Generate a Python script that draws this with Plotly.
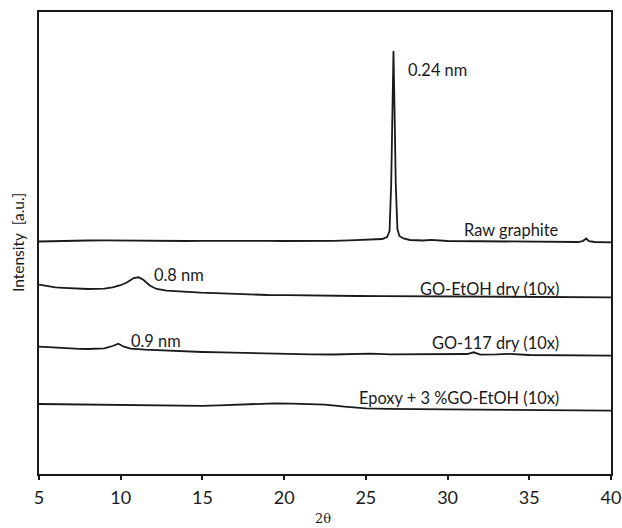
import plotly.graph_objects as go

# ---- data (intensity in arbitrary units) ----
raw_x = [5, 6, 7, 8, 9, 10, 11, 12, 13, 14, 15, 16, 17, 18, 19, 20, 21, 22, 23, 24,
         25, 25.5, 26.0, 26.3, 26.45, 26.55, 26.62, 26.69, 26.76, 26.83, 26.93, 27.05,
         27.3, 27.7, 28.5, 29, 30, 31, 32, 33, 34, 35, 36, 37, 38, 38.3, 38.48, 38.65, 39, 40]
raw_y = [232.5, 233, 233.2, 233.5, 233.6, 233.4, 233.6, 233.5, 233.2, 233, 233.2, 233, 232.9,
         233, 233.1, 233, 232.9, 233, 233.2, 233.6,
         234, 234.5, 235, 237, 243, 290, 360, 423, 360, 290, 245, 238,
         235.5, 234, 233.5, 234.2, 233, 232.8, 232.6, 232.5, 232.6, 232.4, 232.5, 232.2, 232, 233.2, 235.5, 232.8, 232, 231.6]

etoh_x = [5, 5.5, 6, 6.5, 7, 7.5, 8, 8.5, 9, 9.5, 10, 10.4, 10.8, 11.1, 11.4, 11.8, 12.2, 12.8,
          13.5, 14.2, 14.9, 15.8, 16.9, 18, 19, 20.2, 21.6, 23, 24.5, 26, 27.8, 29.5, 31, 32.5,
          33.9, 35.5, 37, 38.5, 40]
etoh_y = [189.3, 188, 186.7, 186.2, 185.7, 185.4, 185, 185.2, 185.3, 186.7, 188.8, 191.7, 196, 196.7,
          194, 188.3, 185, 183.3, 182.5, 181.8, 181.3, 180.8, 180, 179.5, 179, 178.8, 178.3, 178.4,
          178, 177.9, 177.7, 177.8, 177.5, 177.4, 177.3, 177.1, 177, 176.9, 176.7]

go117_x = [5, 5.5, 6, 6.5, 7, 7.5, 8, 8.5, 9, 9.5, 9.85, 10.2, 10.6, 11.5, 12.2, 13, 14, 15, 16.2,
           17.5, 18.8, 20, 21.6, 23, 25, 25.3, 26.5, 28, 29.5, 31.2, 31.6, 32, 33, 33.8, 35, 36.5,
           38, 40]
go117_y = [127.3, 126.8, 126, 125.6, 125.3, 125.2, 125, 125.3, 125.7, 128, 130.3, 127.3, 125.3, 124.3,
           123.8, 123, 122.6, 122, 121.6, 121, 120.6, 120, 119.7, 119.5, 120, 120.4, 119.6, 119.7,
           119.9, 120, 121.7, 119.3, 119.6, 120.2, 119, 118.8, 118.6, 118.3]

epoxy_x = [5, 6, 7, 8, 9, 10, 11, 12, 13, 14, 15, 16, 17, 18, 19, 19.5, 20.5, 21.6, 22.5, 23.7,
           25, 26.3, 27.8, 29.5, 31.8, 33.8, 35.9, 38, 40]
epoxy_y = [70, 69.8, 69.5, 69.3, 69.4, 69.1, 69, 68.7, 68.4, 68, 68.2, 68.7, 69.3, 70, 70.5, 70.7,
           70.4, 70, 69.3, 67.3, 65.7, 65.1, 64.7, 64.5, 64.3, 64.2, 64, 63.8, 63.3]

series = [
    ("Raw graphite", raw_x, raw_y),
    ("GO-EtOH dry (10x)", etoh_x, etoh_y),
    ("GO-117 dry (10x)", go117_x, go117_y),
    ("Epoxy + 3 %GO-EtOH (10x)", epoxy_x, epoxy_y),
]

# labels: (text, x, y, xanchor)
labels = [
    ("0.24 nm", 27.47, 405, "left"),
    ("Raw graphite", 36.95, 245, "right"),
    ("0.8 nm", 11.94, 200, "left"),
    ("GO-EtOH dry (10x)", 36.95, 186, "right"),
    ("0.9 nm", 10.49, 134, "left"),
    ("GO-117 dry (10x)", 36.95, 132, "right"),
    ("Epoxy + 3 %GO-EtOH (10x)", 36.95, 77, "right"),
]

x_ticks = [5, 10, 15, 20, 25, 30, 35, 40]

FONT = "Lato"
INK = "#1a1a1a"
W, H = 622, 528
L, R, T, B = 39, 11, 12, 54
PW, PH = W - L - R, H - T - B

fig = go.Figure()
for name, xs, ys in series:
    fig.add_trace(go.Scatter(x=xs, y=ys, mode="lines", name=name,
                             line=dict(color=INK, width=1.8), showlegend=False))

for text, x, y, xa in labels:
    fig.add_annotation(x=x, y=y, text=text, showarrow=False, xanchor=xa, yanchor="middle",
                       font=dict(family=FONT, size=16.4, color=INK))

# axis titles as paper-anchored annotations
fig.add_annotation(x=(323 - L) / PW, y=-(518 - (H - B)) / PH, xref="paper", yref="paper",
                   text="2θ", showarrow=False, xanchor="center", yanchor="middle",
                   font=dict(family="DejaVu Serif", size=13, color=INK))
fig.add_annotation(x=-(L - 18) / PW, y=0.5, xref="paper", yref="paper",
                   text="Intensity  [a.u.]", showarrow=False, textangle=-90,
                   xanchor="center", yanchor="middle",
                   font=dict(family=FONT, size=15.5, color=INK))

fig.update_layout(
    width=W, height=H,
    margin=dict(l=L, r=R, t=T, b=B, autoexpand=False),
    paper_bgcolor="white", plot_bgcolor="white",
    showlegend=False,
    xaxis=dict(range=[5, 40], tickvals=x_ticks, ticks="outside", ticklen=4, tickwidth=1.5,
               tickcolor=INK, showline=True, linecolor=INK, linewidth=1.5, mirror=True,
               showgrid=False, zeroline=False, automargin=False, ticklabelstandoff=3,
               tickfont=dict(family=FONT, size=18, color=INK)),
    yaxis=dict(range=[0, 462], showticklabels=False, ticks="", showline=True, linecolor=INK,
               linewidth=1.5, mirror=True, showgrid=False, zeroline=False, automargin=False),
)

fig.write_html("out.html", config={"displayModeBar": False},
               post_script="document.body.style.margin='0';document.body.style.overflow='hidden';")
